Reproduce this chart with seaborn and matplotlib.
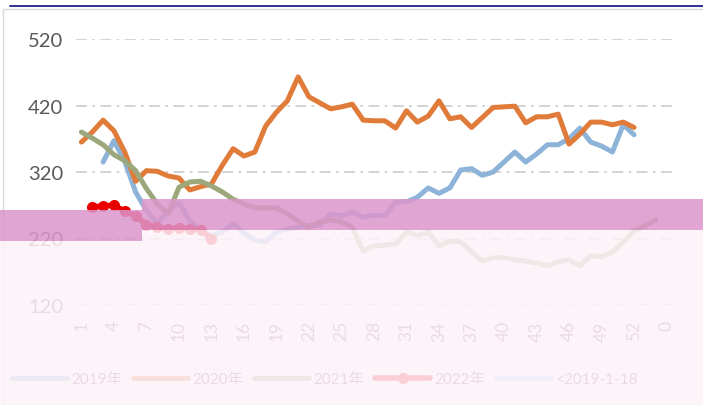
import numpy as np
import matplotlib
matplotlib.use("Agg")
import matplotlib.pyplot as plt
from matplotlib.patches import Rectangle
from matplotlib.lines import Line2D
import seaborn as sns

# category axis: week numbers, last slot is labelled 0
week_labels = [str(w) for w in range(1, 55)] + ["0"]

# 2019 starts at week 3
start_2019 = 3
y_2019 = [335, 367, 336, 290, 262, 243, 261, 274, 246, 232, 224, 230, 242, 228,
          218, 215, 230, 234, 237, 239, 240, 257, 254, 260, 252, 255, 254, 275,
          275, 282, 296, 288, 296, 323, 325, 315, 320, 335, 350, 335, 347, 361,
          361, 370, 386, 365, 359, 350, 391, 376]

start_2020 = 1
y_2020 = [365, 380, 398, 382, 350, 306, 322, 321, 314, 311, 293, 298, 302, 330,
          355, 344, 350, 389, 410, 427, 463, 433, 424, 415, 418, 422, 398, 397,
          397, 386, 412, 395, 404, 427, 400, 403, 387, 402, 417, 418, 419, 394,
          403, 403, 407, 362, 377, 395, 395, 391, 395, 387]

start_2021 = 1
y_2021 = [380, 371, 361, 346, 337, 322, 295, 272, 257, 297, 305, 306, 299, 290,
          279, 272, 266, 266, 266, 257, 246, 236, 245, 248, 245, 237, 201, 209,
          210, 212, 230, 224, 230, 209, 216, 215, 200, 186, 191, 191, 188, 186,
          183, 179, 185, 188, 179, 194, 193, 199, 215, 231, 239, 248]

start_2022 = 2
y_2022 = [267, 269, 270, 261, 254, 241, 237, 235, 236, 235, 233, 219]

y_before = []  # "<2019-1-18" has no visible points

y_ticks = [120, 220, 320, 420, 520]

sns.set_theme(style="white")
plt.rcParams["font.family"] = ["Lato", "Noto Sans CJK SC"]

W, H = 703, 406
fig = plt.figure(figsize=(W / 100, H / 100), dpi=100)
ax = fig.add_axes([76 / W, 100 / H, 596 / W, 266 / H])

lines = [("2019年", start_2019, y_2019, "#8DB4D8"),
         ("2020年", start_2020, y_2020, "#E07B39"),
         ("2021年", start_2021, y_2021, "#9CA77B")]
for name, start, vals, col in lines:
    x = np.arange(len(vals)) + start - 1
    sns.lineplot(x=x, y=vals, color=col, lw=3.6, label=name, ax=ax,
                 solid_capstyle="round", solid_joinstyle="round")

x22 = np.arange(len(y_2022)) + start_2022 - 1
sns.lineplot(x=x22, y=y_2022, color="#E80000", lw=4, marker="o", markersize=8,
             markeredgewidth=0, label="2022年", ax=ax, solid_capstyle="round")
ax.plot(np.arange(len(y_before)), y_before, color="#A9D2E6", lw=3.6, label="<2019-1-18")

ax.set_xlim(-0.5, len(week_labels) - 0.5)
ax.set_ylim(120, 520)
ax.set_yticks(y_ticks)
ax.set_xticks(range(0, len(week_labels), 3))
ax.set_xticklabels(week_labels[::3], rotation=90)
ax.set_xlabel("")
ax.set_ylabel("")
ax.tick_params(axis="y", length=0, pad=9, labelsize=14.5, labelcolor="#595959")
ax.tick_params(axis="x", length=0, pad=11, labelsize=12.5, labelcolor="#7A4A70")
ax.grid(axis="y", color="#D0D0D0", lw=1.3, linestyle=(0, (6, 3, 1.5, 3)))
ax.set_axisbelow(True)
for s in ax.spines.values():
    s.set_visible(False)

ax.legend(loc="center left", bbox_to_anchor=(12 / W, 26 / H), bbox_transform=fig.transFigure,
          ncol=5, frameon=False, fontsize=11, handlelength=3.6, handletextpad=0.3,
          columnspacing=0.7, borderaxespad=0, borderpad=0, labelcolor="#7A4A70")

# frame / top rule of the screenshot
fig.add_artist(Rectangle((3 / W, -0.1), 1.1, 1 - 10 / H + 0.1, transform=fig.transFigure,
                         fill=False, edgecolor="#D9D9D9", lw=1))
fig.add_artist(Line2D([10 / W, 1], [1 - 7 / H] * 2, color="#20208A", lw=1.3,
                      transform=fig.transFigure))


def px_rect(x0, y0, x1, y1, **kw):
    fig.add_artist(Rectangle((x0 / W, 1 - y1 / H), (x1 - x0) / W, (y1 - y0) / H,
                             transform=fig.transFigure, lw=0, zorder=5, **kw))


# damaged strip and washed-out lower part of the source image
px_rect(142, 200, W, 231, color="#DC96CC", alpha=0.86)
px_rect(0, 211, 142, 242, color="#DC96CC", alpha=0.86)
px_rect(142, 231, W, H, color="#FDF3F9", alpha=0.86)
px_rect(0, 242, 142, H, color="#FDF3F9", alpha=0.86)

fig.savefig("out.png", dpi=100)
